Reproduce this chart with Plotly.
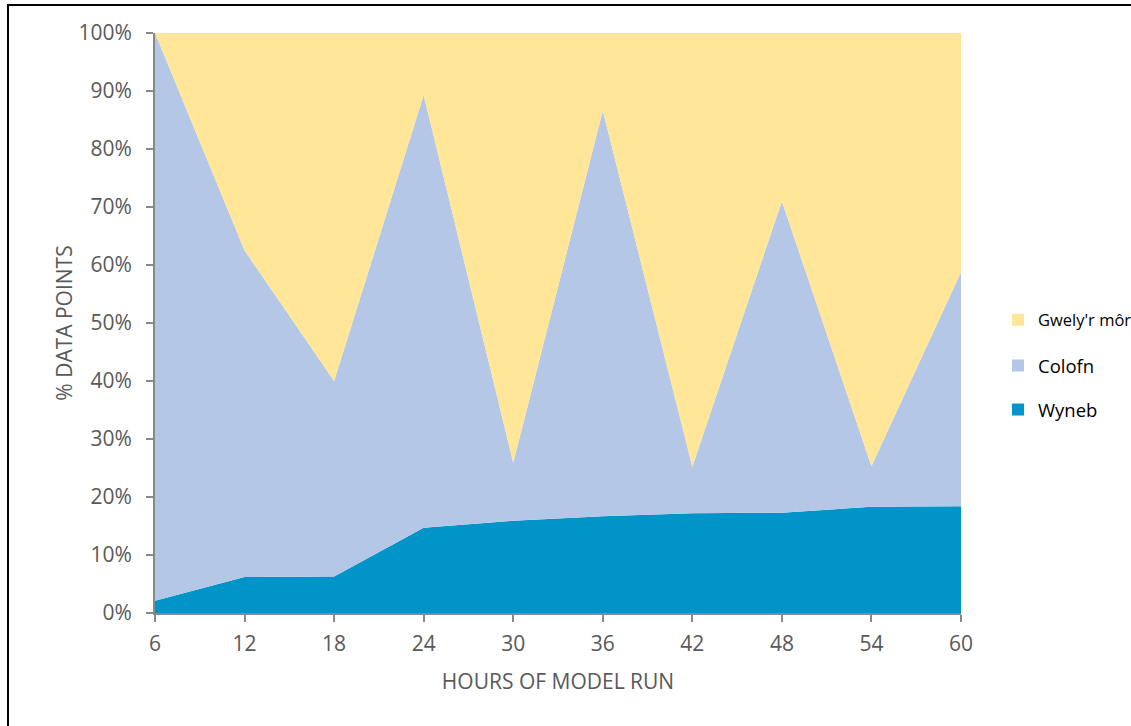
import plotly.graph_objects as go

hours = [6, 12, 18, 24, 30, 36, 42, 48, 54, 60]
wyneb = [2.1, 6.2, 6.3, 14.7, 15.9, 16.7, 17.2, 17.3, 18.3, 18.4]
colofn = [97.9, 56.3, 33.7, 74.6, 10.0, 69.9, 8.0, 53.7, 7.0, 40.4]
gwely = [0.0, 37.5, 60.0, 10.7, 74.1, 13.4, 74.8, 29.0, 74.7, 41.2]

names = ["Wyneb", "Colofn", "Gwely'r môr"]
colors = ["#0094C8", "#B4C7E7", "#FFE699"]
series = [wyneb, colofn, gwely]
legend_ids = ["legend3", "legend2", "legend"]

FONT = "Open Sans, Liberation Sans, sans-serif"
fig = go.Figure()
for n, c, s in zip(names, colors, series):
    fig.add_trace(go.Scatter(
        x=hours, y=s, name=n, stackgroup="one", mode="none",
        fillcolor=c, line=dict(width=0), showlegend=False,
    ))
# legend keys (square swatches)
for n, c, lg in zip(names, colors, legend_ids):
    fig.add_trace(go.Scatter(
        x=[None], y=[None], name=n, mode="markers",
        marker=dict(symbol="square", size=14, color=c), legend=lg,
    ))

W, H = 1131, 726
L, R, T, B = 155, 961, 33, 613

def px(x):
    return (x - L) / (R - L)

def py(y):
    return (B - y) / (B - T)

leg_common = dict(bgcolor="rgba(0,0,0,0)", xanchor="left", yanchor="middle",
                  itemsizing="constant", borderwidth=0, itemwidth=30)
legends = {}
for lg, yy, fs in zip(["legend", "legend2", "legend3"], [320, 366, 410], [16.5, 18.5, 18.5]):
    legends[lg] = dict(x=px(998), y=py(yy), font=dict(size=fs, color="#000"), **leg_common)

fig.update_layout(
    width=W, height=H,
    margin=dict(l=L, r=W - R, t=T, b=H - B, pad=0, autoexpand=False),
    paper_bgcolor="white", plot_bgcolor="white",
    font=dict(family=FONT, color="#595959"),
    **legends,
    xaxis=dict(
        range=[6, 60], tickmode="array", tickvals=hours,
        ticktext=[str(h) for h in hours],
        showline=True, linecolor="#898989", linewidth=2,
        ticks="outside", ticklen=7, tickcolor="#898989", tickwidth=2,
        ticklabelstandoff=4, automargin=False,
        showgrid=False, zeroline=False,
        tickfont=dict(size=21, color="#595959"),
        title=dict(text="HOURS OF MODEL RUN", font=dict(size=21, color="#595959"), standoff=18),
    ),
    yaxis=dict(
        range=[0, 100], tickmode="array", tickvals=list(range(0, 101, 10)),
        ticktext=[f"{v}%" for v in range(0, 101, 10)],
        showline=True, linecolor="#898989", linewidth=2,
        ticks="outside", ticklen=7, tickcolor="#898989", tickwidth=2,
        ticklabelstandoff=10, automargin=False,
        showgrid=False, zeroline=False,
        tickfont=dict(size=21, color="#595959"),
        title=dict(text="% DATA POINTS", font=dict(size=21, color="#595959"), standoff=0),
    ),
    shapes=[dict(type="rect", xref="paper", yref="paper",
                 x0=px(8), x1=px(1140), y0=py(735), y1=py(5),
                 line=dict(color="black", width=2), fillcolor="rgba(0,0,0,0)", layer="below")],
)
fig.write_html("out.html", config={"displayModeBar": False},
               post_script="document.body.style.margin='0';")
